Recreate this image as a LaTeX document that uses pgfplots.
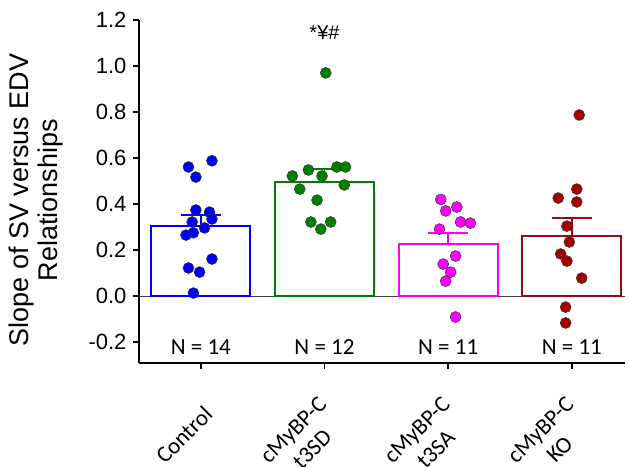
\documentclass[border=0pt]{standalone}
\usepackage{fontspec}
\setmainfont{Liberation Sans}
\newfontfamily\calibri{Carlito}
\usepackage{pgfplots}
\pgfplotsset{compat=1.18}
\definecolor{cblue}{RGB}{0,0,245}
\definecolor{cgreen}{RGB}{0,128,0}
\definecolor{cmag}{RGB}{255,0,255}
\definecolor{cred}{RGB}{150,12,12}
\definecolor{cptred}{RGB}{165,0,0}
\begin{document}
\begin{tikzpicture}
\begin{axis}[
  name=ax,
  scale only axis, width=486pt, height=343pt,
  xmin=-0.5, xmax=3.43, ymin=-0.291, ymax=1.2,
  axis x line*=bottom, axis y line*=left,
  axis line style={line width=1.6pt, black},
  xtick={0,1,2,3},
  xticklabels={Control,{cMyBP-C\\t3SD},{cMyBP-C\\t3SA},{cMyBP-C\\KO}},
  ytick={-0.2,0,0.2,0.4,0.6,0.8,1.0,1.2},
  tick align=outside, major tick length=6pt,
  tick style={line width=1.6pt, black},
  yticklabel style={font=\fontsize{22}{24}\selectfont, xshift=-3pt},
  /pgf/number format/.cd, fixed, fixed zerofill, precision=1, assume math mode=true,
  /pgfplots/.cd,
  xticklabel style={font=\calibri\fontsize{23}{27}\selectfont, align=center, xshift=10pt, yshift=-39pt, rotate=45, anchor=east},
  ylabel={Slope of SV versus EDV\\Relationships},
  ylabel style={font=\fontsize{27}{29}\selectfont, align=center, at={(axis description cs:-0.212,0.475)}, anchor=center, rotate=0},
  clip=false,
]
\addplot[black!75, line width=1pt, forget plot] coordinates {(-0.5,0) (3.43,0)};
% bars with SEM
\addplot[ybar, bar width=0.8, bar shift=0pt, draw=cblue, fill=white, line width=1.8pt,
  error bars/.cd, y dir=plus, y explicit, error bar style={line width=1.8pt, cblue},
  error mark options={rotate=90, mark size=20pt, line width=1.8pt, cblue}]
  coordinates {(0,0.304) +- (0,0.048)};
\addplot[ybar, bar width=0.8, bar shift=0pt, draw=cgreen, fill=white, line width=1.8pt,
  error bars/.cd, y dir=plus, y explicit, error bar style={line width=1.8pt, cgreen},
  error mark options={rotate=90, mark size=20pt, line width=1.8pt, cgreen}]
  coordinates {(1,0.496) +- (0,0.056)};
\addplot[ybar, bar width=0.8, bar shift=0pt, draw=cmag, fill=white, line width=1.8pt,
  error bars/.cd, y dir=plus, y explicit, error bar style={line width=1.8pt, cmag},
  error mark options={rotate=90, mark size=20pt, line width=1.8pt, cmag}]
  coordinates {(2,0.226) +- (0,0.048)};
\addplot[ybar, bar width=0.8, bar shift=0pt, draw=cred, fill=white, line width=1.8pt,
  error bars/.cd, y dir=plus, y explicit, error bar style={line width=1.8pt, cred},
  error mark options={rotate=90, mark size=20pt, line width=1.8pt, cred}]
  coordinates {(3,0.260) +- (0,0.080)};
% individual points
\addplot[only marks, mark=*, mark size=5.5pt, mark options={fill=cblue, draw=black!80, line width=0.5pt}]
  coordinates {(0.09,0.588) (-0.10,0.561) (-0.04,0.517) (-0.04,0.374) (0.07,0.365) (0.09,0.335) (-0.07,0.322) (0.03,0.296) (-0.06,0.275) (-0.12,0.265) (0.09,0.161) (-0.10,0.122) (-0.01,0.104) (-0.06,0.013)};
\addplot[only marks, mark=*, mark size=5.5pt, mark options={fill=cgreen, draw=black!80, line width=0.5pt}]
  coordinates {(1.01,0.970) (0.87,0.548) (1.10,0.561) (1.17,0.561) (0.74,0.522) (0.98,0.522) (0.80,0.465) (1.16,0.483) (0.94,0.417) (0.89,0.322) (1.05,0.322) (0.97,0.291)};
\addplot[only marks, mark=*, mark size=5.5pt, mark options={fill=cmag, draw=black!80, line width=0.5pt}]
  coordinates {(1.94,0.420) (1.98,0.370) (2.07,0.387) (2.10,0.322) (2.18,0.317) (1.93,0.291) (2.06,0.174) (1.96,0.139) (2.02,0.104) (1.98,0.065) (2.06,-0.091)};
\addplot[only marks, mark=*, mark size=5.5pt, mark options={fill=cptred, draw=black!80, line width=0.5pt}]
  coordinates {(3.06,0.787) (3.04,0.465) (2.89,0.426) (3.04,0.409) (2.96,0.304) (2.98,0.235) (2.91,0.183) (2.96,0.152) (3.08,0.078) (2.95,-0.048) (2.95,-0.117)};
% annotations
\node[font=\calibri\fontsize{23}{26}\selectfont] at (axis cs:0,-0.222) {N = 14};
\node[font=\calibri\fontsize{23}{26}\selectfont] at (axis cs:1,-0.222) {N = 12};
\node[font=\calibri\fontsize{23}{26}\selectfont] at (axis cs:2,-0.222) {N = 11};
\node[font=\calibri\fontsize{23}{26}\selectfont] at (axis cs:3,-0.222) {N = 11};
\node[font=\fontsize{20}{22}\selectfont] at (axis cs:1,1.143) {*¥\#};
\end{axis}
\pgfresetboundingbox
\path[use as bounding box] ([shift={(-139pt,-103pt)}]ax.south west) rectangle ([shift={(490pt,363pt)}]ax.south west);
\end{tikzpicture}
\end{document}
